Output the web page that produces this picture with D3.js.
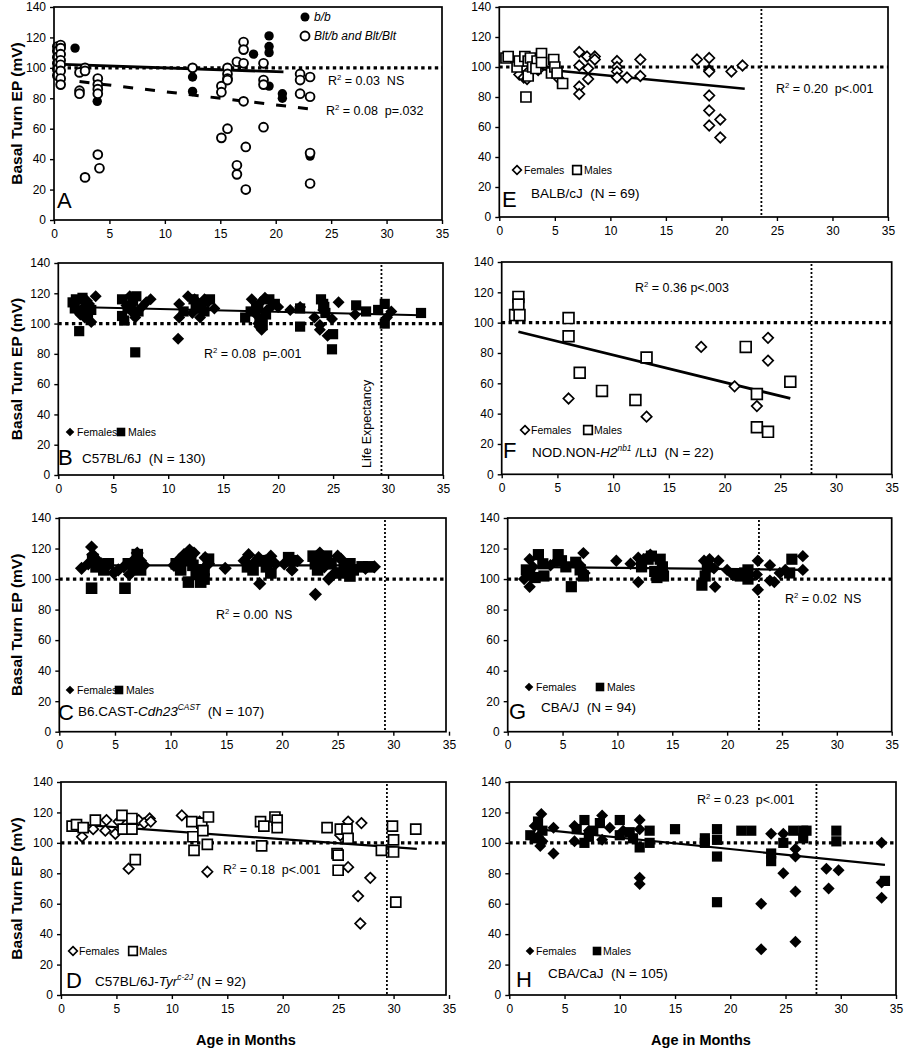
<!DOCTYPE html>
<html><head><meta charset="utf-8">
<script src="https://cdn.jsdelivr.net/npm/d3@7"></script>
<style>
body{margin:0;background:#fff}
svg text{font-family:"Liberation Sans",Arial,sans-serif;fill:#000;white-space:pre}
</style>
</head><body>
<svg id="c" width="904" height="1050"></svg>
<script>
// ---------- shared tick labels ----------
const xTicks = [0,5,10,15,20,25,30,35];
const yTicks = [0,20,40,60,80,100,120,140];
const refEP = 100;

// ---------- Panel A: b/b vs Blt ----------
const A_bb = [[0.3,101],[1.9,113],[3.9,78],[12.5,94],[12.5,84.5],[18.0,109],[19.4,121],[19.4,114],[19.4,110],[19.4,88],[20.6,83],[20.6,80],[23.1,42]];
const A_blt = [[0.3,114],[0.3,111],[0.3,107],[0.3,103],[0.3,99],[0.3,95],[0.6,115],[0.6,113],[0.6,109],[0.6,105],[0.6,102],[0.6,98],[0.6,93],[0.6,89],
 [2.3,97],[2.3,85],[2.3,83],[2.8,100],[2.8,98],[2.8,28],
 [3.95,93],[3.95,89],[3.95,86],[3.95,83],[3.95,43],[4.1,34],
 [12.5,100],
 [15.1,88],[15.1,84],[15.1,54],[15.65,100],[15.65,96],[15.65,93],[15.65,92],[15.65,60],
 [16.5,104],[16.5,36],[16.5,30],[17.1,117],[17.1,112],[17.1,103],[17.1,78],[17.3,48],[17.3,20],
 [18.9,103],[18.9,92],[18.9,89],[18.9,61],
 [22.2,96],[22.2,92],[22.2,83],[23.1,94],[23.1,81],[23.1,44],[23.1,24]];
const A_fitBB = [[0.2,102.5],[20.7,97.3]];
const A_fitBlt = [[2.3,91],[23.1,73]];

// ---------- Panel B: C57BL/6J ----------
const B_f = [[1.8,108],[2.0,106],[2.2,110],[2.6,115],[2.8,113],[3.0,101],[3.4,118],[2.4,104],
 [6.2,112],[6.5,118],[6.8,107],[7.0,104],[7.6,111],[8.0,114],[8.4,116],
 [10.9,90],[11.0,104],[11.0,113],[11.8,118],[12.2,107],[12.6,112],[12.9,104],[13.3,116],[13.6,114],[14.2,110],[12.4,116],
 [17.6,116],[18.0,106],[18.2,100],[18.4,114],[18.5,96],[18.7,104],[18.8,117],[19.0,109],[19.5,112],[20.0,111],[18.3,98],
 [21.1,109],[22.0,111],[23.3,104],[23.8,99],[23.8,96],[24.1,109],[24.5,92],[24.9,103],[25.5,114],[27.0,106],[30.3,108],[29.9,104]];
const B_m = [[1.3,114],[1.5,110],[1.6,116],[1.9,95],[2.2,117],[2.5,112],[2.7,106],[3.0,109],
 [5.8,116],[5.8,105],[6.3,110],[6.6,112],[6.8,115],[7.0,81],[7.1,118],[7.3,108],[6.0,102],
 [12.3,116],[12.5,110],[13.0,113],[13.3,108],[13.8,116],[11.4,108],
 [17.0,104],[17.5,108],[18.0,112],[18.2,110],[18.3,102],[18.6,99],[18.9,106],[19.2,116],[19.7,113],
 [22.0,110],[22.0,98],[23.9,116],[24.1,113],[24.2,111],[24.3,107],[25.0,93],[24.9,83],
 [27.1,112],[28.0,108],[29.1,109],[29.7,113],[29.7,100],[33.0,107]];
const B_fit = [[1.5,111],[33,105.5]];

// ---------- Panel C: B6.CAST-Cdh23 CAST ----------
const C_f = [[2.0,107],[2.6,110],[2.9,121],[3.0,116],[3.3,113],[3.8,110],[4.3,109],[4.9,104],[5.3,106],[5.8,108],[6.3,103],[6.5,111],[7.0,117],[7.3,112],[7.6,109],
 [10.3,109],[10.8,113],[11.2,116],[11.7,119],[12.1,117],[12.4,106],[12.6,101],[13.1,114],[13.4,110],[14.9,107],
 [16.6,112],[17.0,116],[17.4,110],[17.9,114],[18.0,97],[18.5,112],[19.0,115],[19.4,110],[20.2,110],[20.9,106],[21.4,112],
 [23.0,90],[23.4,117],[23.8,108],[24.2,100],[24.6,103],[25.0,115],[25.3,113],[25.8,106],[27.5,107],[28.3,108]];
const C_m = [[2.9,94],[3.0,113],[3.3,108],[4.0,106],[4.4,110],[5.9,94],[6.2,110],[6.7,107],[7.0,116],[7.3,106],
 [10.5,110],[10.9,106],[11.3,113],[11.6,98],[11.8,116],[12.0,109],[12.3,103],[12.7,98],[13.0,106],[13.4,113],[13.0,100],
 [16.9,108],[17.4,106],[18.0,112],[18.6,108],[19.0,104],[20.6,114],[20.9,112],
 [22.8,115],[23.0,110],[23.2,106],[23.6,113],[24.0,115],[24.4,110],[25.2,104],[25.6,108],[26.1,110],[26.1,102],[26.4,106],[27.2,108],[27.8,108]];
const C_fit = [[2,109],[28.5,109]];

// ---------- Panel D: C57BL/6J-Tyr c-2J ----------
const D_f = [[1.9,104],[2.9,109],[4.0,108],[4.1,115],[4.9,106],[5.2,114],[6.1,110],[6.1,83],[7.0,115],[8.0,116],[7.5,113],[8.1,114],
 [10.9,118],[12.5,114],[13.2,81],[25.2,105],[25.9,114],[25.9,84],[26.8,65],[27.0,47],[27.1,113],[27.9,77]];
const D_m = [[1.0,111],[1.4,112],[2.0,110],[3.1,115],[5.5,118],[5.6,109],[6.4,116],[6.4,109],[6.7,89],
 [11.8,114],[11.9,104],[12.0,95],[12.7,113],[12.8,108],[13.3,117],[13.2,99],
 [18.0,114],[18.3,111],[18.1,98],[19.3,117],[19.5,115],[19.5,110],
 [24.0,110],[24.9,93],[25.0,92],[25.0,82],[25.2,109],[25.8,109],[25.9,103],[28.9,95],[29.9,111],[30.0,102],[30.0,94],[30.2,61],[32.0,109]];
const D_fit = [[0.8,112.5],[32.1,96]];

// ---------- Panel E: BALB/cJ ----------
const E_f = [[1.8,95],[2.2,93],[2.5,92],[2.1,100],[3.5,98],[5.4,92],[7.2,110],[7.2,101],[7.2,87],[7.2,82],[7.9,107],[8.0,99],[8.0,92],[8.6,107],[8.6,105],
 [10.6,104],[10.6,100],[10.6,97],[10.6,93],[11.5,93],[12.7,105],[12.7,94],[17.8,105],[18.9,106],[18.9,98],[18.9,97],[18.9,81],[18.9,71],[18.9,61],[19.9,65],[19.9,53],[20.9,97],[21.9,101]];
const E_m = [[0.6,106],[0.8,107],[1.6,100],[1.8,104],[2.4,80],[2.3,107],[2.6,104],[2.8,106],[2.6,94],[3.0,100],[3.4,104],[3.3,99],[3.8,109],[3.8,103],[4.7,96],[4.9,105],[5.0,100],[5.2,96],[5.7,89]];
const E_fit = [[1.8,100],[22.1,85.5]];

// ---------- Panel F: NOD.NON-H2 nb1/LtJ ----------
const F_f = [[6.0,50],[13.0,38],[17.9,84],[20.9,58],[22.9,45],[23.9,90],[23.9,75]];
const F_m = [[1.2,105],[1.5,117],[1.5,112],[1.6,105],[6.0,103],[6.0,91],[7.0,67],[9.0,55],[12.0,49],[13.0,77],[21.9,84],[22.9,53],[22.9,31],[23.9,28],[25.9,61]];
const F_fit = [[1.5,94],[25.9,50]];

// ---------- Panel G: CBA/J ----------
const G_f = [[1.5,100],[1.8,103],[2.0,95],[2.0,113],[2.3,108],[3.9,109],[4.5,112],[6.9,117],[6.6,109],[7.0,104],
 [9.9,112],[11.2,110],[11.9,98],[11.9,114],[12.4,113],[13.0,116],
 [17.9,112],[18.4,113],[18.8,107],[18.9,95],[19.2,112],[20.0,106],[20.5,103],
 [22.8,112],[22.8,93],[22.7,103],[23.9,109],[23.9,99],[24.3,98],[24.8,104],[25.3,106],[26.9,115],[26.9,106]];
const G_m = [[1.7,106],[2.0,104],[2.5,101],[2.8,116],[3.2,110],[3.3,102],[4.6,116],[4.9,112],[5.3,108],[5.8,95],[6.2,111],[6.6,106],[6.9,102],
 [12.2,108],[12.8,113],[13.1,115],[13.4,105],[13.6,101],[13.9,113],[14.1,108],[14.2,102],
 [17.7,96],[18.0,102],[18.2,108],[20.8,103],[21.2,102],[21.6,104],[21.9,106],[21.9,100],[25.7,104],[25.9,113]];
const G_fit = [[1.5,108],[27,106]];

// ---------- Panel H: CBA/CaJ ----------
const H_f = [[2.3,111],[2.9,119],[2.8,98],[2.6,104],[3.0,101],[4.0,93],[4.0,110],[5.9,111],[5.9,101],[7.2,108],[8.4,118],[8.4,102],[9.1,110],[10.3,108],
 [11.8,115],[11.8,109],[11.8,77],[11.8,73],[22.8,60],[22.8,30],[23.7,106],[24.8,106],[24.8,80],[25.9,96],[25.9,91],[25.9,68],[25.9,35],
 [28.7,83],[28.9,70],[29.8,82],[33.7,100],[33.7,74],[33.7,64]];
const H_m = [[1.9,105],[2.3,103],[2.6,114],[3.0,108],[6.1,109],[6.8,115],[6.8,100],[7.2,104],[7.6,108],[8.2,113],[10.0,115],[10.0,105],[10.9,107],[11.2,103],
 [11.8,97],[12.7,108],[12.7,100],[15.0,109],[17.7,103],[17.7,100],[18.8,109],[18.8,102],[18.8,91],[18.8,61],[21.0,108],[21.9,108],
 [23.7,93],[23.7,88],[24.8,100],[25.7,108],[26.6,108],[26.6,103],[26.9,108],[29.6,108],[29.6,101],[34.0,75]];
const H_fit = [[2.5,109],[34,85.5]];

// ---------- life expectancy (months) ----------
const lifeExp = {A:null, B:29.4, C:29.25, D:29.4, E:23.6, F:27.8, G:22.9, H:27.8};

// ---------- text content ----------
const rLabels = {
  A:[[{t:'R'},{t:'2',sup:1},{t:' = 0.03  NS'}],[{t:'R'},{t:'2',sup:1},{t:' = 0.08  p=.032'}]],
  B:[[{t:'R'},{t:'2',sup:1},{t:' = 0.08  p=.001'}]],
  C:[[{t:'R'},{t:'2',sup:1},{t:' = 0.00  NS'}]],
  D:[[{t:'R'},{t:'2',sup:1},{t:' = 0.18  p<.001'}]],
  E:[[{t:'R'},{t:'2',sup:1},{t:' = 0.20  p<.001'}]],
  F:[[{t:'R'},{t:'2',sup:1},{t:' = 0.36 p<.003'}]],
  G:[[{t:'R'},{t:'2',sup:1},{t:' = 0.02  NS'}]],
  H:[[{t:'R'},{t:'2',sup:1},{t:' = 0.23  p<.001'}]]
};
const strainLabels = {
  A:[],
  B:[{t:'C57BL/6J  (N = 130)'}],
  C:[{t:'B6.CAST-'},{t:'Cdh23',i:1},{t:'CAST',i:1,sup:1},{t:'  (N = 107)'}],
  D:[{t:'C57BL/6J-'},{t:'Tyr',i:1},{t:'c-2J',i:1,sup:1},{t:' (N = 92)'}],
  E:[{t:'BALB/cJ  (N = 69)'}],
  F:[{t:'NOD.NON-'},{t:'H2',i:1},{t:'nb1',i:1,sup:1},{t:' /LtJ  (N = 22)'}],
  G:[{t:'CBA/J  (N = 94)'}],
  H:[{t:'CBA/CaJ  (N = 105)'}]
};
const legendNames = {A:['b/b','Blt/b and Blt/Blt'], other:['Females','Males']};
const yTitle = 'Basal Turn EP (mV)';
const xTitle = 'Age in Months';
const lifeText = 'Life Expectancy';

// ---------- layout (positions / styles only) ----------
const L = {
 A:{left:54,xEnd:442,frameR:442,top:7,bottom:220, ser:[[A_bb,'cF',4.7],[A_blt,'cO',4.4]], fits:[[A_fitBB,null,2.8],[A_fitBlt,'10,12',3]],
    r:[[328,85],[326,115]], letter:[57,208], strain:[0,0], leg:[[305,17,314,'cF',true],[305,36,314,'cO',true]], yt:true},
 B:{left:58.3,xEnd:443,frameR:443,top:263,bottom:475, ser:[[B_f,'dF',6],[B_m,'sF',5.1]], fits:[[B_fit,null,2]],
    r:[[204,358]], letter:[58,465], strain:[82,463], leg:[[70,432,77,'dF'],[121,432,128,'sF']], yt:true, lifeTxt:true},
 C:{left:59.3,xEnd:449,frameR:446,top:518,bottom:731.7, ser:[[C_f,'dF',6.6],[C_m,'sF',5.8]], fits:[[C_fit,null,2.2]],
    r:[[216,619]], letter:[58,720], strain:[78,716], leg:[[70,690,77,'dF'],[119,690,126,'sF']], yt:true},
 D:{left:61,xEnd:449,frameR:446,top:782,bottom:995, ser:[[D_f,'dO',5.2],[D_m,'sO',5]], fits:[[D_fit,null,2.2]],
    r:[[223,874]], letter:[66,988], strain:[95,986], leg:[[73,951,79,'dO'],[133,951,139,'sO']], yt:true},
 E:{left:499.3,xEnd:888,frameR:888,top:7,bottom:217, ser:[[E_f,'dO',5.2],[E_m,'sO',5]], fits:[[E_fit,null,2.4]],
    r:[[776,93]], letter:[502,207], strain:[531,198], leg:[[517,170,524,'dO'],[577,170,584,'sO']]},
 F:{left:501.7,xEnd:891.7,frameR:891.7,top:262,bottom:474.3, ser:[[F_f,'dO',5.2],[F_m,'sO',5.4]], fits:[[F_fit,null,2.8]],
    r:[[635,292]], letter:[503,458], strain:[532,457], leg:[[525,430,531,'dO'],[588,430,594,'sO']]},
 G:{left:507.7,xEnd:891.7,frameR:891.7,top:518,bottom:731.7, ser:[[G_f,'dF',6.2],[G_m,'sF',5.6]], fits:[[G_fit,null,2.2]],
    r:[[785,603]], letter:[509,719], strain:[541,712], leg:[[529,687,536,'dF'],[600,687,607,'sF']]},
 H:{left:509.3,xEnd:896,frameR:896,top:782,bottom:995, ser:[[H_f,'dF',6],[H_m,'sF',5.1]], fits:[[H_fit,null,2.2]],
    r:[[697,804]], letter:[516,987], strain:[548,978], leg:[[530,951,536,'dF'],[597,951,603,'sF']]}
};

const svg = d3.select('#c');

function addRich(sel, parts, size){
  parts.forEach((p,k)=>{
    const ts = sel.append('tspan').text(p.t);
    if(p.i) ts.attr('font-style','italic');
    if(p.sup){ ts.attr('font-size', size*0.62).attr('dy', -size*0.42); }
    else if(k>0 && parts[k-1].sup){ ts.attr('dy', size*0.42); }
  });
}

function marker(g, type, cx, cy, s){
  if(type==='cF') g.append('circle').attr('cx',cx).attr('cy',cy).attr('r',s).attr('fill','#000');
  else if(type==='cO') g.append('circle').attr('cx',cx).attr('cy',cy).attr('r',s).attr('fill','#fff').attr('stroke','#000').attr('stroke-width',1.9);
  else {
    const filled = type[1]==='F';
    const d = type[0]==='d' ? `M${cx},${cy-s}L${cx+s},${cy}L${cx},${cy+s}L${cx-s},${cy}Z`
                            : `M${cx-s},${cy-s}H${cx+s}V${cy+s}H${cx-s}Z`;
    g.append('path').attr('d',d).attr('fill',filled?'#000':'#fff')
      .attr('stroke',filled?'none':'#000').attr('stroke-width',filled?0:1.7);
  }
}

Object.keys(L).forEach(id=>{
  const p = L[id];
  const g = svg.append('g');
  const x = d3.scaleLinear().domain([0,35]).range([p.left,p.xEnd]);
  const y = d3.scaleLinear().domain([0,140]).range([p.bottom,p.top]);

  // axes
  const ya = g.append('g').attr('transform',`translate(${p.left},0)`)
    .call(d3.axisLeft(y).tickValues(yTicks).tickSize(4).tickPadding(4));
  const xa = g.append('g').attr('transform',`translate(0,${p.bottom})`)
    .call(d3.axisBottom(x).tickValues(xTicks).tickSize(4).tickPadding(5));
  [ya,xa].forEach(a=>{
    a.select('.domain').remove();
    a.selectAll('line').attr('stroke','#000').attr('stroke-width',1.4);
    a.selectAll('text').attr('font-size',12).attr('font-family','"Liberation Sans",Arial,sans-serif').attr('fill','#000');
  });

  // reference line at 100
  g.append('line').attr('x1',x(0)).attr('x2',p.frameR).attr('y1',y(refEP)).attr('y2',y(refEP))
    .attr('stroke','#000').attr('stroke-width',3.2).attr('stroke-dasharray','3.4,3.4');
  // life expectancy line
  if(lifeExp[id]!=null){
    g.append('line').attr('x1',x(lifeExp[id])).attr('x2',x(lifeExp[id])).attr('y1',p.top+2).attr('y2',p.bottom)
      .attr('stroke','#000').attr('stroke-width',1.8).attr('stroke-dasharray','2,2');
  }
  // fits
  const line = d3.line().x(d=>x(d[0])).y(d=>y(d[1]));
  p.fits.forEach(f=>{
    const l = g.append('path').attr('d',line(f[0])).attr('fill','none').attr('stroke','#000').attr('stroke-width',f[2]);
    if(f[1]) l.attr('stroke-dasharray',f[1]);
  });
  // points
  const pg = g.append('g');
  p.ser.forEach(s=>{
    s[0].forEach(d=>marker(pg, s[1], x(d[0]), y(d[1]), s[2]));
  });
  // frame
  g.append('rect').attr('x',p.left).attr('y',p.top).attr('width',p.frameR-p.left).attr('height',p.bottom-p.top)
    .attr('fill','none').attr('stroke','#000').attr('stroke-width',1.7);

  // R² labels
  rLabels[id].forEach((parts,k)=>{
    const t = g.append('text').attr('x',p.r[k][0]).attr('y',p.r[k][1]).attr('font-size',12.5);
    addRich(t, parts, 12.5);
  });
  // legend
  p.leg.forEach((lg,k)=>{
    marker(g, lg[3], lg[0], lg[1], lg[3][0]==='c'?4.5:4.3);
    const names = id==='A'?legendNames.A:legendNames.other;
    g.append('text').attr('x',lg[2]).attr('y',lg[1]+4).attr('font-size',id==='A'?12:10.5)
      .attr('font-style',lg[4]?'italic':null).text(names[k]);
  });
  // panel letter + strain
  g.append('text').attr('x',p.letter[0]).attr('y',p.letter[1]).attr('font-size',22).text(id);
  if(strainLabels[id].length){
    const t = g.append('text').attr('x',p.strain[0]).attr('y',p.strain[1]).attr('font-size',13.5);
    addRich(t, strainLabels[id], 13.5);
  }
  // life expectancy text
  if(p.lifeTxt){
    g.append('text').attr('transform',`translate(${x(lifeExp[id])-10},${p.bottom-7}) rotate(-90)`)
      .attr('font-size',12.5).text(lifeText);
  }
  // y title
  if(p.yt){
    g.append('text').attr('transform',`translate(22,${(p.top+p.bottom)/2}) rotate(-90)`)
      .attr('text-anchor','middle').attr('font-size',15.5).attr('font-weight','bold').text(yTitle);
  }
});

// x titles
svg.append('text').attr('x',246).attr('y',1045).attr('text-anchor','middle').attr('font-size',14.5).attr('font-weight','bold').text(xTitle);
svg.append('text').attr('x',701).attr('y',1045).attr('text-anchor','middle').attr('font-size',14.5).attr('font-weight','bold').text(xTitle);
</script>
</body></html>
